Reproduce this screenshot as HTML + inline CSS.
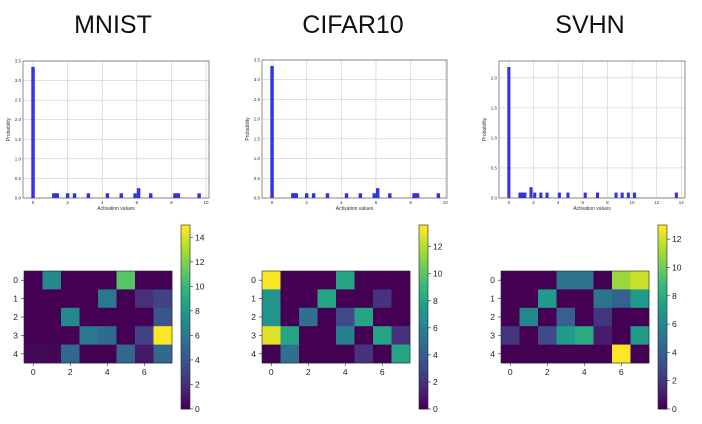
<!DOCTYPE html>
<html><head><meta charset="utf-8"><style>
body{margin:0;background:#fff;width:702px;height:424px;overflow:hidden;font-family:"Liberation Sans",sans-serif}
svg{position:absolute;left:0;top:0}
</style></head><body>
<svg id="c" width="702" height="424" xmlns="http://www.w3.org/2000/svg"></svg>
<script>
const titles=["MNIST","CIFAR10","SVHN"];
const histMnistX=[0,1.2,1.3,1.4,2.0,2.4,3.2,4.3,5.1,5.9,6.1,6.8,8.2,8.3,8.4,9.6];
const histMnistY=[3.35,0.12,0.12,0.12,0.12,0.12,0.12,0.12,0.12,0.12,0.25,0.12,0.12,0.12,0.12,0.12];
const histCifarX=[0,1.2,1.3,1.4,2.0,2.4,3.2,4.3,5.1,5.9,6.1,6.8,8.2,8.3,8.4,9.6];
const histCifarY=[3.35,0.12,0.12,0.12,0.12,0.12,0.12,0.12,0.12,0.12,0.25,0.12,0.12,0.12,0.12,0.12];
const histSvhnX=[0,0.9,1.1,1.3,1.8,2.1,2.6,3.1,4.1,4.8,6.2,7.2,8.7,9.2,9.7,10.2,13.6];
const histSvhnY=[2.18,0.09,0.09,0.09,0.18,0.09,0.09,0.09,0.09,0.09,0.09,0.09,0.09,0.09,0.09,0.09,0.09];
const yTicksA=[0,0.5,1.0,1.5,2.0,2.5,3.0,3.5];
const yTicksS=[0,0.5,1.0,1.5,2.0];
const xTicksA=[0,2,4,6,8,10];
const xTicksS=[0,2,4,6,8,10,12,14];
const heatMnist=[[0,7,0,0,0,11,0,0],[0,0,0,0,6,0,2,3],[0,0,7,0,0,0,0,4],[0,0,0,6,5,0,3,15],[0.3,0.2,5,0,0,5,1,5]];
const heatCifar=[[13.5,0,0,0,8,0,0,0],[7,0,0,8,0,0,2,0],[7,0,5,0,3,8,0,0],[13,8,0,0,6,0,8,2],[0,5,0,0,0,2,0,8]];
const heatSvhn=[[0,0,0,5,5,0,11,12],[0,0,7,0,0,5,4,7],[0,6,0,4,0,2,0,0],[2,0,3,7,8,1,0,7],[0,0,0,0,0,0,13,0]];
const cbTicksM=[0,2,4,6,8,10,12,14];
const cbTicksC=[0,2,4,6,8,10,12];
const cbTicksS=[0,2,4,6,8,10,12];

const NS="http://www.w3.org/2000/svg",svg=document.getElementById('c');
function el(t,a,p){const e=document.createElementNS(NS,t);for(const k in a)e.setAttribute(k,a[k]);(p||svg).appendChild(e);return e;}
const V=[[68,1,84],[72,40,120],[62,74,137],[49,104,142],[38,130,142],[31,158,137],[53,183,121],[109,205,89],[180,222,44],[253,231,37]];
function vir(t){t=Math.max(0,Math.min(1,t))*9;const i=Math.min(8,Math.floor(t)),f=t-i;const a=V[i],b=V[i+1];return `rgb(${a.map((v,k)=>Math.round(v+(b[k]-v)*f)).join(',')})`;}

const cx=[113,353,590];
titles.forEach((t,i)=>{const e=el('text',{x:cx[i],y:33,'font-size':25,'text-anchor':'middle',fill:'#111'});e.textContent=t;
});

function hist(L,R,T,B,xmin,xmax,ymax,xs,ys,xt,yt,bw,name){
 const g=el('g',{});
 const sx=v=>L+(v-xmin)/(xmax-xmin)*(R-L),sy=v=>B-v/ymax*(B-T);
 el('rect',{x:L,y:T,width:R-L,height:B-T,fill:'#fff'},g);
 xt.forEach(v=>{el('line',{x1:sx(v),x2:sx(v),y1:T,y2:B,stroke:'#ccc','stroke-width':0.6},g);
  const e=el('text',{x:sx(v),y:B+6,'font-size':4.5,'text-anchor':'middle',fill:'#333'},g);e.textContent=v;});
 yt.forEach(v=>{el('line',{x1:L,x2:R,y1:sy(v),y2:sy(v),stroke:'#ccc','stroke-width':0.6},g);
  const e=el('text',{x:L-2,y:sy(v)+1.5,'font-size':4.5,'text-anchor':'end',fill:'#333'},g);e.textContent=v.toFixed(1);});
 xs.forEach((x,i)=>{const b=el('rect',{x:sx(x-bw/2),y:sy(ys[i]),width:sx(bw)-sx(0),height:B-sy(ys[i]),fill:'#3333e6'},g);
  });
 el('rect',{x:L,y:T,width:R-L,height:B-T,fill:'none',stroke:'#444','stroke-width':0.6},g);
 let e=el('text',{x:(L+R)/2,y:B+12,'font-size':5,'text-anchor':'middle',fill:'#333'},g);e.textContent='Activation values';
 e=el('text',{x:0,y:0,'font-size':5,'text-anchor':'middle',fill:'#333',transform:`translate(${L-13},${(T+B)/2}) rotate(-90)`},g);e.textContent='Probability';
}
hist(23,209,61,198,-0.58,10.17,3.5,histMnistX,histMnistY,xTicksA,yTicksA,0.2,'mnist-histogram');
hist(262,447,60,198,-0.58,10.1,3.5,histCifarX,histCifarY,xTicksA,yTicksA,0.2,'cifar10-histogram');
hist(499,685,61,198,-0.8,14.3,2.28,histSvhnX,histSvhnY,xTicksS,yTicksS,0.25,'svhn-histogram');

function heat(L,R,T,B,data,vmax,cbL,cbticks,name){
 const g=el('g',{});
 const nr=data.length,nc=data[0].length,cw=(R-L)/nc,ch=(B-T)/nr;
 data.forEach((row,r)=>row.forEach((v,c)=>{const e=el('rect',{x:L+c*cw,y:T+r*ch,width:cw+0.3,height:ch+0.3,fill:vir(v/vmax)},g);
  }));
 el('rect',{x:L,y:T,width:R-L,height:B-T,fill:'none',stroke:'#222','stroke-width':0.6},g);
 for(let c=0;c<nc;c+=2){const x=L+(c+0.5)*cw;el('line',{x1:x,x2:x,y1:B,y2:B+3,stroke:'#222','stroke-width':0.6},g);
  const e=el('text',{x:x,y:B+12,'font-size':8.5,'text-anchor':'middle',fill:'#222'},g);e.textContent=c;}
 for(let r=0;r<nr;r++){const y=T+(r+0.5)*ch;el('line',{x1:L-3,x2:L,y1:y,y2:y,stroke:'#222','stroke-width':0.6},g);
  const e=el('text',{x:L-6,y:y+3,'font-size':8.5,'text-anchor':'end',fill:'#222'},g);e.textContent=r;}
 const cT=225,cB=409,cW=9,N=60;
 for(let i=0;i<N;i++){el('rect',{x:cbL,y:cB-(i+1)*(cB-cT)/N,width:cW,height:(cB-cT)/N+0.4,fill:vir(i/(N-1))},g);}
 el('rect',{x:cbL,y:cT,width:cW,height:cB-cT,fill:'none',stroke:'#222','stroke-width':0.6},g);
 cbticks.forEach(v=>{const y=cB-v/vmax*(cB-cT);el('line',{x1:cbL+cW,x2:cbL+cW+3,y1:y,y2:y,stroke:'#222','stroke-width':0.6},g);
  const e=el('text',{x:cbL+cW+5,y:y+3,'font-size':8.5,fill:'#222'},g);e.textContent=v;});
}
heat(24,172,271,363,heatMnist,15,181,cbTicksM,'mnist-heatmap');
heat(262,410,271,363,heatCifar,13.6,419,cbTicksC,'cifar10-heatmap');
heat(501,649,271,363,heatSvhn,13,658,cbTicksS,'svhn-heatmap');
</script>
</body></html>
